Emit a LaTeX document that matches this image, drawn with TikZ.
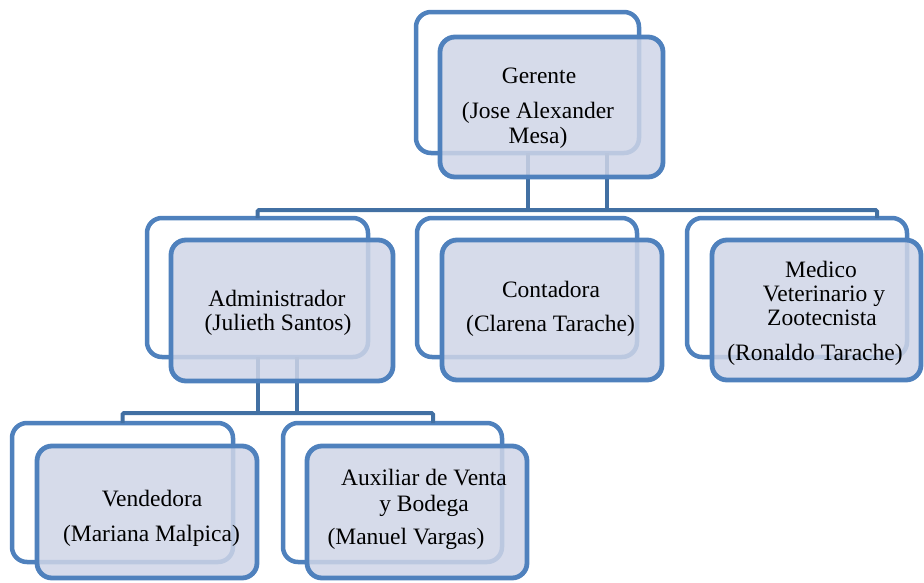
\documentclass[tikz,border=0pt]{standalone}
\usepackage{fontspec}
\setmainfont{Liberation Serif}
\definecolor{boxline}{RGB}{79,129,189}
\definecolor{linkline}{RGB}{66,112,163}
\definecolor{boxfill}{RGB}{207,213,231}
\begin{document}
\begin{tikzpicture}[x=1pt,y=-1pt,
  backbox/.style={draw=boxline, line width=4.5pt, rounded corners=15pt,
    fill=white, inner sep=0pt, outer sep=0pt},
  frontbox/.style={draw=boxline, line width=4.8pt, rounded corners=15pt,
    fill=boxfill, fill opacity=0.85, draw opacity=1, inner sep=0pt, outer sep=0pt},
  link/.style={draw=linkline, line width=4pt, rounded corners=1.5pt},
  lbl/.style={anchor=base, inner sep=0pt, font=\fontsize{23.5}{26}\selectfont}]
\useasboundingbox (0,0) rectangle (924,582);

% back frames
\node[backbox, minimum width=223pt, minimum height=141pt] (gerB) at (527.5,82.5) {};
\node[backbox, minimum width=221pt, minimum height=139pt] (admB) at (257.5,287.5) {};
\node[backbox, minimum width=220pt, minimum height=139pt] (conB) at (527,287.5) {};
\node[backbox, minimum width=220pt, minimum height=139pt] (medB) at (797,287.5) {};
\node[backbox, minimum width=221pt, minimum height=139pt] (venB) at (122.5,492.5) {};
\node[backbox, minimum width=219pt, minimum height=139pt] (auxB) at (392.5,492.5) {};

% connector taps and bus ends
\coordinate (gerTap) at (607,153);
\coordinate (busTop) at (877,210);
\coordinate (admTap) at (297,357);
\coordinate (busLow) at (433,413);

% top level bus
\draw[link] (admB.north) -- (admB.north |- busTop) -- (busTop) -- (busTop |- medB.north);
\draw[link] (gerB.south) -- (gerB.south |- busTop);
\draw[link] (gerTap) -- (gerTap |- busTop);

% lower bus
\draw[link] (venB.north) -- (venB.north |- busLow) -- (busLow) -- (busLow |- auxB.north);
\draw[link] (admB.south) -- (admB.south |- busLow);
\draw[link] (admTap) -- (admTap |- busLow);

% front boxes
\node[frontbox, minimum width=223pt, minimum height=140pt] (gerF) at (551.5,107) {};
\node[frontbox, minimum width=222pt, minimum height=141pt] (admF) at (282,310.5) {};
\node[frontbox, minimum width=220pt, minimum height=140pt] (conF) at (552,310) {};
\node[frontbox, minimum width=209pt, minimum height=140pt] (medF) at (816.5,310) {};
\node[frontbox, minimum width=220pt, minimum height=132pt] (venF) at (147,512) {};
\node[frontbox, minimum width=220pt, minimum height=132pt] (auxF) at (417,512) {};

% labels
\node[lbl] (ger1) at (539,83) {Gerente};
\node[lbl] (ger2) at (538,118) {(Jose Alexander};
\node[lbl] (ger3) at (538,143) {Mesa)};

\node[lbl] (adm1) at (277,306) {Administrador};
\node[lbl] (adm2) at (278,330) {(Julieth Santos)};

\node[lbl] (con1) at (551,297) {Contadora};
\node[lbl] (con2) at (550.5,331) {(Clarena Tarache)};

\node[lbl] (med1) at (821,277) {Medico};
\node[lbl] (med2) at (824,301) {Veterinario y};
\node[lbl] (med3) at (822,325) {Zootecnista};
\node[lbl] (med4) at (815,360) {(Ronaldo Tarache)};

\node[lbl] (ven1) at (152,506) {Vendedora};
\node[lbl] (ven2) at (151.5,541) {(Mariana Malpica)};

\node[lbl] (aux1) at (424,485) {Auxiliar de Venta};
\node[lbl] (aux2) at (424,511) {y Bodega};
\node[lbl] (aux3) at (406,544) {(Manuel Vargas)};
\end{tikzpicture}
\end{document}
